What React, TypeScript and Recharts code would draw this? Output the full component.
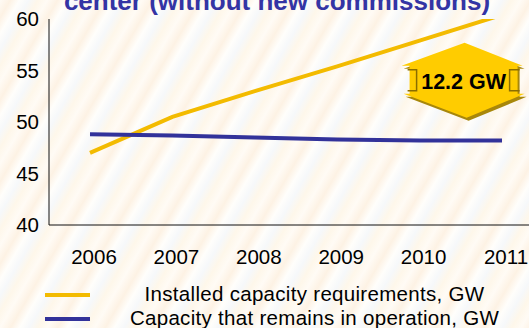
import React from 'react';
import { LineChart, Line, XAxis, YAxis, Legend, ReferenceDot } from 'recharts';

// Years on the horizontal axis
const years = ['2006', '2007', '2008', '2009', '2010', '2011'];
// Installed capacity requirements, GW
const installed = [47.0, 50.5, 53.0, 55.4, 57.9, 60.4];
// Capacity that remains in operation, GW
const remaining = [48.8, 48.7, 48.5, 48.3, 48.2, 48.2];
// Value axis ticks
const yTicks = [40, 45, 50, 55, 60];

const seriesKeys = ['installed', 'remaining'];
const seriesNames: Record<string, string> = {
  installed: 'Installed capacity requirements, GW',
  remaining: 'Capacity that remains in operation, GW',
};
const gapLabel = '12.2 GW';
const titleText = 'center (without new commissions)';

const data = years.map((year, i) => ({
  year,
  installed: installed[i],
  remaining: remaining[i],
}));

const FONT = '"Liberation Sans", Arial, sans-serif';

// Yellow double-headed arrow with the gap value
const GapArrow = (props: any) => {
  const { cx, cy } = props;
  if (cx == null || cy == null) return null;
  const ox = cx + 44;
  const oy = cy;
  const pts = [
    [1, -38], [59, -15], [54, -15], [54, 13], [61, 13], [3, 37],
    [-60, 13], [-54, 13], [-54, -15], [-62, -15],
  ];
  const toStr = (dx: number, dy: number) =>
    pts.map(([x, y]) => `${ox + x + dx},${oy + y + dy}`).join(' ');
  return (
    <g>
      <polygon points={toStr(2, 3)} fill="#a8870a" />
      <polygon points={toStr(0, 0)} fill="#ffcc00" />
      <path
        d={`M${ox - 56},${oy - 11} H${ox - 47} V${oy + 10} H${ox - 56}`}
        fill="none"
        stroke="#8a6d00"
        strokeWidth={1.5}
      />
      <path
        d={`M${ox + 56},${oy - 11} H${ox + 46} V${oy + 10} H${ox + 56}`}
        fill="none"
        stroke="#8a6d00"
        strokeWidth={1.5}
      />
      <text
        x={ox}
        y={oy}
        dy="0.36em"
        textAnchor="middle"
        fontFamily={FONT}
        fontWeight="bold"
        fontSize={21.5}
        fill="#000"
      >
        {gapLabel}
      </text>
    </g>
  );
};

const LegendBox = (props: any) => {
  const payload = [...(props.payload || [])].sort(
    (a: any, b: any) => seriesKeys.indexOf(a.dataKey) - seriesKeys.indexOf(b.dataKey)
  );
  return (
    <div style={{ width: 529, fontFamily: FONT }}>
      {payload.map((entry: any) => (
        <div key={entry.value} style={{ position: 'relative', height: 23.5 }}>
          <div
            style={{
              position: 'absolute',
              left: 45,
              top: 11,
              width: 45,
              height: 4,
              background: entry.color,
            }}
          />
          <div
            style={{
              position: 'absolute',
              left: 100,
              right: 0,
              top: 0,
              textAlign: 'center',
              lineHeight: '23.5px',
              fontSize: 20.5,
              letterSpacing: 0.3,
              color: '#000',
              whiteSpace: 'nowrap',
            }}
          >
            {entry.value}
          </div>
        </div>
      ))}
    </div>
  );
};

export default function App() {
  return (
    <div
      style={{
        position: 'absolute',
        left: 0,
        top: 0,
        width: 529,
        height: 328,
        overflow: 'hidden',
        background:
          'repeating-linear-gradient(120deg, #fffbf5 0px, #fdf2e4 9px, #fffefb 17px, #f6f8fa 25px, #fef7ea 33px, #fffbf5 41px)',
      }}
    >
      <svg
        width={529}
        height={30}
        style={{ position: 'absolute', left: 0, top: 0 }}
      >
        <text
          x={277}
          y={10}
          textAnchor="middle"
          fontFamily={FONT}
          fontWeight="bold"
          fontSize={26}
          fill="#3434a4"
        >
          {titleText}
        </text>
      </svg>
      <LineChart
        width={529}
        height={328}
        data={data}
        margin={{ top: 19, right: 0, bottom: 43, left: 0 }}
      >
        <XAxis
          dataKey="year"
          height={60}
          padding={{ left: 41, right: 27 }}
          axisLine={{ stroke: '#111', strokeWidth: 1 }}
          tickLine={false}
          tickSize={0}
          tickMargin={24}
          tick={{ fill: '#000', fontSize: 20.5, fontFamily: FONT, dx: 4 }}
          interval={0}
        />
        <YAxis
          width={49}
          domain={[40, 60]}
          ticks={yTicks}
          allowDataOverflow
          axisLine={{ stroke: '#111', strokeWidth: 1 }}
          tickLine={false}
          tickSize={0}
          tickMargin={10}
          tick={{ fill: '#000', fontSize: 20.5, fontFamily: FONT }}
        />
        <Line
          type="linear"
          dataKey="installed"
          name={seriesNames.installed}
          stroke="#f3bb00"
          strokeWidth={4}
          dot={false}
          isAnimationActive={false}
        />
        <Line
          type="linear"
          dataKey="remaining"
          name={seriesNames.remaining}
          stroke="#32329a"
          strokeWidth={4}
          dot={false}
          isAnimationActive={false}
        />
        <ReferenceDot
          x="2010"
          y={54}
          r={0}
          ifOverflow="visible"
          shape={(p: any) => <GapArrow {...p} />}
        />
        <Legend
          layout="horizontal"
          verticalAlign="middle"
          align="center"
          wrapperStyle={{ top: 282, left: 0, width: 529, height: 47 }}
          content={(p: any) => <LegendBox {...p} />}
        />
      </LineChart>
    </div>
  );
}
